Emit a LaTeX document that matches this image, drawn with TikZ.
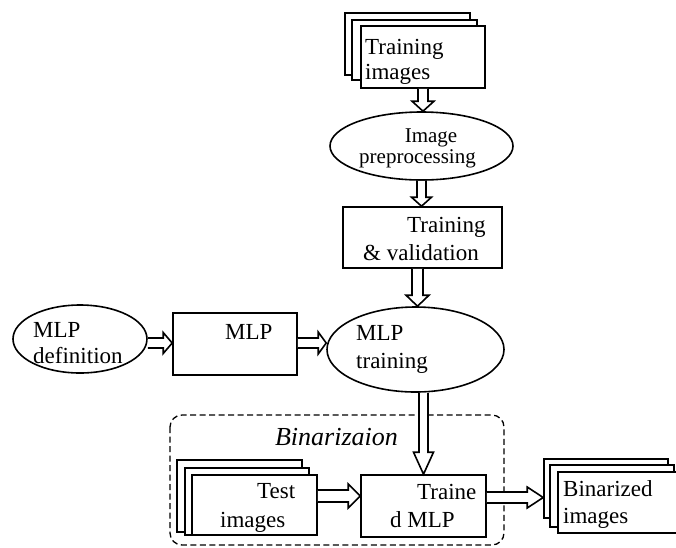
\documentclass[tikz,border=0pt]{standalone}
\usepackage{fontspec}
\setmainfont{Liberation Serif}
\usetikzlibrary{shapes.geometric,calc}
\tikzset{
  x=1pt, y=-1pt,
  box/.style={draw, line width=1.6pt, fill=white, inner sep=0pt, rectangle},
  oval/.style={draw, line width=1.6pt, fill=white, inner sep=0pt, ellipse},
  txt/.style={anchor=base west, inner sep=0pt, font=\fontsize{23}{25}\selectfont},
  smalltxt/.style={anchor=base, inner sep=0pt, font=\fontsize{21}{23}\selectfont},
  blk/.style={draw, line width=1.6pt, fill=white, line join=miter},
  grp/.style={draw, line width=1.3pt, dash pattern=on 6pt off 3.5pt, rounded corners=12pt}
}
% vertical block arrow: start, end, stem half width, head half width, head length
\newcommand{\downarrowblk}[5]{%
  \draw[blk] let \p1=(#1), \p2=(#2) in
   (\x1-#3pt,\y1) -- (\x1-#3pt,\y2+#5pt) -- (\x1-#4pt,\y2+#5pt) -- (\x1,\y2)
   -- (\x1+#4pt,\y2+#5pt) -- (\x1+#3pt,\y2+#5pt) -- (\x1+#3pt,\y1);}
\newcommand{\rightarrowblk}[5]{%
  \draw[blk] let \p1=(#1), \p2=(#2) in
   (\x1,\y1+#3pt) -- (\x2-#5pt,\y1+#3pt) -- (\x2-#5pt,\y1+#4pt) -- (\x2,\y1)
   -- (\x2-#5pt,\y1-#4pt) -- (\x2-#5pt,\y1-#3pt) -- (\x1,\y1-#3pt);}
\begin{document}
\begin{tikzpicture}
\useasboundingbox (0,0) rectangle (676,547);
\clip (0,0) rectangle (676,547);

% Training images stack
\node[box, minimum width=125, minimum height=62] (ti1) at (407.5,44) {};
\node[box, minimum width=125, minimum height=60] (ti2) at (414.5,50) {};
\node[box, minimum width=124, minimum height=62] (ti3) at (423,57) {};
\node[txt] (ti3a) at (365,54) {Training};
\node[txt] (ti3b) at (365,79) {images};

% Image preprocessing
\node[oval, minimum width=183, minimum height=68] (pre) at (421.5,146) {};
\node[smalltxt] (prea) at (431,142) {Image};
\node[smalltxt] (preb) at (417.5,163) {preprocessing};

% Training & validation
\node[box, minimum width=159, minimum height=61] (tv) at (422.5,237.5) {};
\node[txt] (tva) at (407,232) {Training};
\node[txt] (tvb) at (363,260) {\& validation};

% MLP definition
\node[oval, minimum width=134, minimum height=68] (mdef) at (80,339) {};
\node[txt] (mdefa) at (33,337) {MLP};
\node[txt] (mdefb) at (33,363) {definition};

% MLP box
\node[box, minimum width=124, minimum height=62] (mlp) at (235,344) {};
\node[txt] (mlpa) at (225,339) {MLP};

% MLP training
\node[oval, minimum width=177, minimum height=85] (mt) at (415.5,349.5) {};
\node[txt] (mta) at (356,340) {MLP};
\node[txt] (mtb) at (356,368) {training};

% Binarization group
\draw[grp] (170,415) rectangle (504,545);
\node[anchor=base, inner sep=0pt, font=\fontsize{26}{28}\selectfont\itshape] (bin) at (336.5,445) {Binarizaion};

% Test images stack
\node[box, minimum width=125, minimum height=72] (te1) at (239.5,496) {};
\node[box, minimum width=124, minimum height=67] (te2) at (247,501.5) {};
\node[box, minimum width=125, minimum height=60] (te3) at (254.5,505) {};
\node[txt] (te3a) at (257,498) {Test};
\node[txt] (te3b) at (220,527) {images};

% Trained MLP
\node[box, minimum width=125, minimum height=62] (tm) at (423.5,506) {};
\node[txt] (tma) at (417,499) {Traine};
\node[txt] (tmb) at (390,527) {d MLP};

% Binarized images stack
\node[box, minimum width=124, minimum height=59] (bi1) at (606,488.5) {};
\node[box, minimum width=124, minimum height=62] (bi2) at (612,496) {};
\node[box, minimum width=124, minimum height=61] (bi3) at (620,502.5) {};
\node[txt] (bi3a) at (563,496) {Binarized};
\node[txt] (bi3b) at (563,523) {images};

% Arrows
\downarrowblk{ti3.south}{pre.north}{5}{11}{10}
\downarrowblk{pre.south}{tv.north}{4.5}{10}{9}
\downarrowblk{$(tv.south)+(-5,0)$}{mt.north}{5.5}{11.5}{11}
\downarrowblk{tm.north |- mt.south}{tm.north}{4.5}{10}{22}
\rightarrowblk{$(mdef.east)+(0,4)$}{mlp.west}{5}{10.5}{9}
\rightarrowblk{$(mlp.east)+(0,-1)$}{mt.west}{5}{11}{8}
\rightarrowblk{$(te3.east)+(0,-9)$}{tm.west}{6}{12}{12}
\rightarrowblk{$(tm.east)+(0,-8.5)$}{bi1.west}{5.5}{10.5}{16}
\end{tikzpicture}
\end{document}
